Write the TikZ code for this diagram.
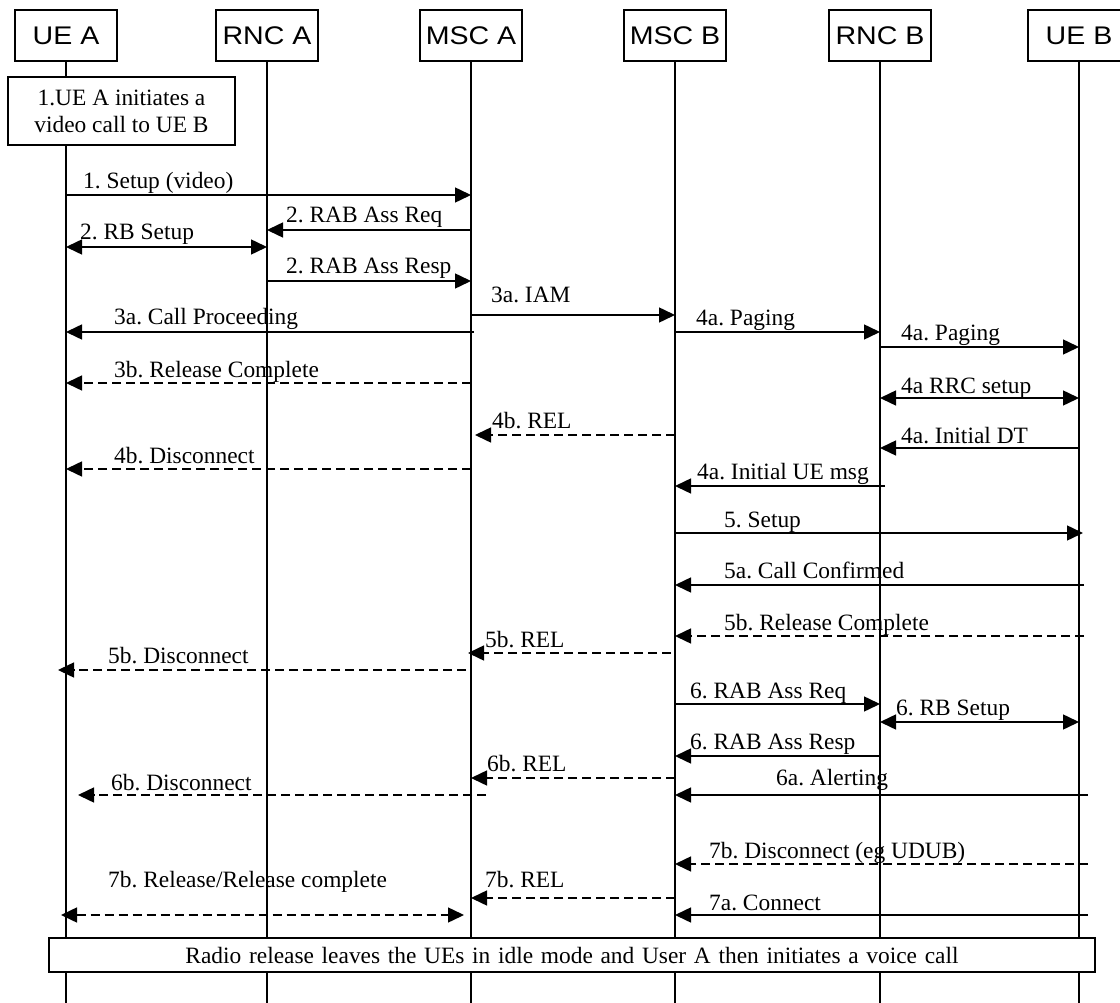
\documentclass[tikz,border=0pt]{standalone}
\usepackage{fontspec}
\setmainfont{Liberation Serif}
\newfontfamily\hdrfont{Liberation Sans}[FakeStretch=1.12]
\usetikzlibrary{arrows.meta,calc}

\tikzset{
	entity/.style={draw,fill=white,line width=1.5pt,minimum width=102pt,minimum height=51pt,inner sep=0pt,font=\hdrfont\fontsize{25.5pt}{30pt}\selectfont},
	note/.style={draw,fill=white,line width=1.5pt,inner sep=0pt,align=center,font=\fontsize{23.4pt}{27pt}\selectfont},
	lbl/.style={anchor=base west,inner sep=0pt,font=\fontsize{23.4pt}{27pt}\selectfont},
	life/.style={line width=1.5pt},
	msg/.style={line width=1.5pt,-{Triangle[length=16pt,width=15pt]}},
	rel/.style={msg,dash pattern=on 9pt off 5pt},
	both/.style={line width=1.5pt,{Triangle[length=16pt,width=15pt]}-{Triangle[length=16pt,width=15pt]}}
}

\begin{document}
\frenchspacing
\begin{tikzpicture}[x=1pt,y=-1pt]
	\useasboundingbox (0,0) rectangle (1120,1003);

	\node[entity]	(ueA)	at (66,35.5)	{UE A};
	\node[entity]	(rncA)	at (267,35.5)	{RNC A};
	\node[entity]	(mscA)	at (471,35.5)	{MSC A};
	\node[entity]	(mscB)	at (675,35.5)	{MSC B};
	\node[entity]	(rncB)	at (880,35.5)	{RNC B};
	\node[entity]	(ueB)	at (1079,35.5)	{UE B};

	\foreach \n in {ueA,rncA,mscA,mscB,rncB,ueB}
		\draw[life] (\n.south) -- (\n.south |- 0,1003);

	\node[note,minimum width=227pt,minimum height=68pt]	(start)	at (121.5,111)	{1.UE A initiates a\\video call to UE B};
	\node[note,minimum width=1046pt,minimum height=34pt]	(idle)	at (572,955)	{\spaceskip=7.7pt Radio release leaves the UEs in idle mode and User A then initiates a voice call};

	\draw[msg]	(ueA |- 0,195) -- (mscA |- 0,195);
	\draw[msg]	(mscA |- 0,230) -- (rncA |- 0,230);
	\draw[both]	(ueA |- 0,247) -- (rncA |- 0,247);
	\draw[msg]	(rncA |- 0,281) -- (mscA |- 0,281);
	\draw[msg]	(mscA |- 0,315) -- (mscB |- 0,315);
	\draw[msg]	($(mscA |- 0,332)+(3,0)$) -- (ueA |- 0,332);
	\draw[msg]	(mscB |- 0,332) -- (rncB |- 0,332);
	\draw[msg]	(rncB |- 0,347) -- (ueB |- 0,347);
	\draw[rel]	(mscA |- 0,383) -- (ueA |- 0,383);
	\draw[both]	(rncB |- 0,398) -- (ueB |- 0,398);
	\draw[rel]	(mscB |- 0,435) -- ($(mscA |- 0,435)+(4,0)$);
	\draw[msg]	(ueB |- 0,448) -- (rncB |- 0,448);
	\draw[rel]	(mscA |- 0,469) -- (ueA |- 0,469);
	\draw[msg]	($(rncB |- 0,486)+(5,0)$) -- (mscB |- 0,486);
	\draw[msg]	(mscB |- 0,533) -- ($(ueB |- 0,533)+(4,0)$);
	\draw[msg]	($(ueB |- 0,585)+(5,0)$) -- (mscB |- 0,585);
	\draw[rel]	($(ueB |- 0,636)+(5,0)$) -- (mscB |- 0,636);
	\draw[rel]	($(mscB |- 0,653)+(-4,0)$) -- ($(mscA |- 0,653)+(-3,0)$);
	\draw[rel]	($(mscA |- 0,670)+(-5,0)$) -- ($(ueA |- 0,670)+(-8,0)$);
	\draw[msg]	(mscB |- 0,704) -- (rncB |- 0,704);
	\draw[both]	(rncB |- 0,722) -- (ueB |- 0,722);
	\draw[msg]	(rncB |- 0,756) -- (mscB |- 0,756);
	\draw[rel]	(mscB |- 0,778) -- (mscA |- 0,778);
	\draw[rel]	($(mscA |- 0,795)+(15,0)$) -- ($(ueA |- 0,795)+(12,0)$);
	\draw[msg]	($(ueB |- 0,795)+(9,0)$) -- (mscB |- 0,795);
	\draw[rel]	($(ueB |- 0,864)+(9,0)$) -- (mscB |- 0,864);
	\draw[rel]	(mscB |- 0,898) -- (mscA |- 0,898);
	\draw[both,dash pattern=on 9pt off 5pt]	($(ueA |- 0,915)+(-5,0)$) -- ($(mscA |- 0,915)+(-7,0)$);
	\draw[msg]	($(ueB |- 0,915)+(9,0)$) -- (mscB |- 0,915);

	\node[lbl]	(t1)	at (83,189)		{1. Setup (video)};
	\node[lbl]	(t2)	at (286,223)	{2. RAB Ass Req};
	\node[lbl]	(t3)	at (80,240)		{2. RB Setup};
	\node[lbl]	(t4)	at (286,274)	{2. RAB Ass Resp};
	\node[lbl]	(t5)	at (491,302)	{3a. IAM};
	\node[lbl]	(t6)	at (114,325)	{3a. Call Proceeding};
	\node[lbl]	(t7)	at (696,326)	{4a. Paging};
	\node[lbl]	(t8)	at (901,341)	{4a. Paging};
	\node[lbl]	(t9)	at (114,377)	{3b. Release Complete};
	\node[lbl]	(t10)	at (901,393)	{4a RRC setup};
	\node[lbl]	(t11)	at (492,428)	{4b. REL};
	\node[lbl]	(t12)	at (901,443)	{4a. Initial DT};
	\node[lbl]	(t13)	at (114,463)	{4b. Disconnect};
	\node[lbl]	(t14)	at (697,479)	{4a. Initial UE msg};
	\node[lbl]	(t15)	at (724,527)	{5. Setup};
	\node[lbl]	(t16)	at (724,578)	{5a. Call Confirmed};
	\node[lbl]	(t17)	at (724,630)	{5b. Release Complete};
	\node[lbl]	(t18)	at (485,647)	{5b. REL};
	\node[lbl]	(t19)	at (108,663)	{5b. Disconnect};
	\node[lbl]	(t20)	at (690,698)	{6. RAB Ass Req};
	\node[lbl]	(t21)	at (896,715)	{6. RB Setup};
	\node[lbl]	(t22)	at (690,749)	{6. RAB Ass Resp};
	\node[lbl]	(t23)	at (487,771)	{6b. REL};
	\node[lbl]	(t24)	at (111,790)	{6b. Disconnect};
	\node[lbl]	(t25)	at (776,785)	{6a. Alerting};
	\node[lbl]	(t26)	at (709,858)	{7b. Disconnect (eg UDUB)};
	\node[lbl]	(t27)	at (485,887)	{7b. REL};
	\node[lbl]	(t28)	at (108,887)	{7b. Release/Release complete};
	\node[lbl]	(t29)	at (709,910)	{7a. Connect};
\end{tikzpicture}
\end{document}
